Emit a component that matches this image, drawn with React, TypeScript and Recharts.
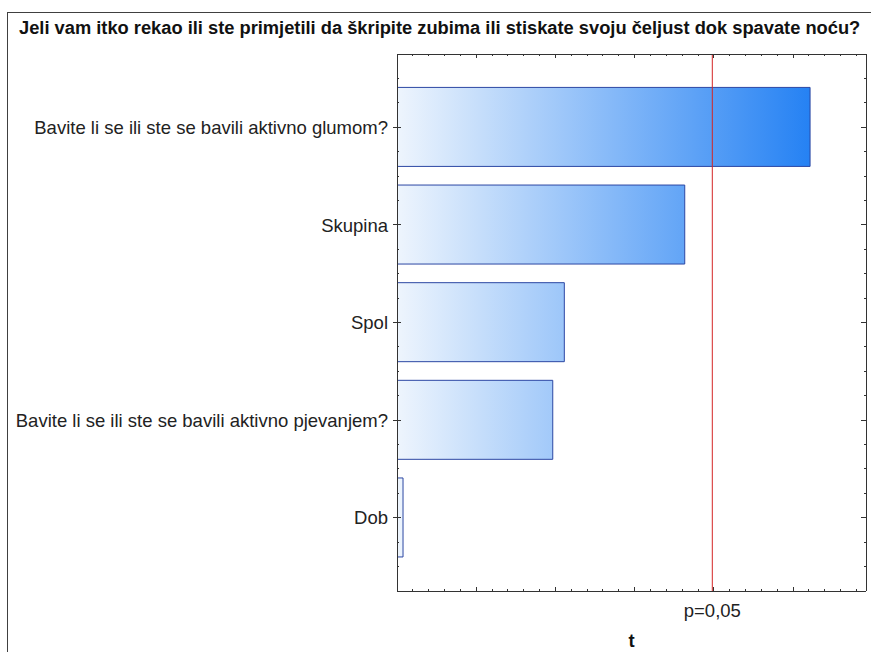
import React from 'react';
import { BarChart, Bar, XAxis, YAxis, ReferenceLine } from 'recharts';

const title = 'Jeli vam itko rekao ili ste primjetili da škripite zubima ili stiskate svoju čeljust dok spavate noću?';
const factors = [
  'Bavite li se ili ste se bavili aktivno glumom?',
  'Skupina',
  'Spol',
  'Bavite li se ili ste se bavili aktivno pjevanjem?',
  'Dob',
];
const tValues = [2.607, 1.816, 1.056, 0.983, 0.038];
const critT = 1.99;
const critLabel = 'p=0,05';
const xTicks = [0, 0.1, 0.2, 0.3, 0.4, 0.5, 0.6, 0.7, 0.8, 0.9, 1, 1.1, 1.2, 1.3, 1.4, 1.5, 1.6, 1.7, 1.8, 1.9, 2, 2.1, 2.2, 2.3, 2.4, 2.5, 2.6, 2.7, 2.8, 2.9];
const yTicks = [0.25, 0.5, 0.75, 1, 1.25, 1.5, 1.75, 2, 2.25, 2.5, 2.75, 3, 3.25, 3.5, 3.75, 4, 4.25, 4.5, 4.75, 5, 5.25, 5.5, 5.75];

const data = factors.map((name, i) => ({ name, pos: i + 1, t: tValues[i] }));

const W = 871;
const H = 652;
const PLOT_LEFT = 397;
const PLOT_RIGHT = 866;
const PLOT_TOP = 54;
const PLOT_BOTTOM = 591;
const FONT = '"Liberation Sans", Arial, sans-serif';
const AXIS = '#333';

const isMajorX = (v: number) => Math.abs(v * 2 - Math.round(v * 2)) < 1e-6;

const BottomTick = ({ x, y, payload }: any) => (
  <line x1={x} x2={x} y1={y} y2={y - (isMajorX(payload.value) ? 4 : 2)} stroke={AXIS} shapeRendering="crispEdges" />
);
const TopTick = ({ x, y, payload }: any) => (
  <line x1={x} x2={x} y1={y} y2={y + (isMajorX(payload.value) ? 4 : 2)} stroke={AXIS} shapeRendering="crispEdges" />
);
const LeftTick = ({ x, y, payload }: any) => {
  const major = Number.isInteger(payload.value);
  return (
    <g>
      <line x1={major ? x - 4 : x} x2={x + (major ? 4 : 2)} y1={y} y2={y} stroke={AXIS} shapeRendering="crispEdges" />
      {major && (
        <text x={x - 9} y={y} dy="0.36em" textAnchor="end" fontSize={18.5} fontFamily={FONT} fill="#222">
          {factors[payload.value - 1]}
        </text>
      )}
    </g>
  );
};
const RightTick = ({ x, y, payload }: any) => {
  const major = Number.isInteger(payload.value);
  return <line x1={x} x2={x - (major ? 5 : 2)} y1={y} y2={y} stroke={AXIS} shapeRendering="crispEdges" />;
};

const axisLine = { stroke: AXIS, shapeRendering: 'crispEdges' };

export default function App() {
  return (
    <div style={{ position: 'absolute', left: 0, top: 0, width: W, height: H, overflow: 'hidden', background: '#fff', fontFamily: FONT }}>
      <div style={{ position: 'absolute', left: 7, top: 12, width: 900, height: 700, border: '1px solid #404040' }} />
      <div style={{ position: 'absolute', left: 19, top: 18, lineHeight: '20px', fontSize: 18.3, fontWeight: 700, color: '#111', whiteSpace: 'nowrap' }}>
        {title}
      </div>
      <div style={{ position: 'absolute', left: 0, top: 0 }}>
        <BarChart
          width={W}
          height={H}
          data={data}
          layout="vertical"
          margin={{ top: PLOT_TOP - 1, right: W - PLOT_RIGHT - 1, bottom: 0, left: 0 }}
        >
          <defs>
            <linearGradient id="tGrad" gradientUnits="userSpaceOnUse" x1={PLOT_LEFT} y1={0} x2={PLOT_RIGHT} y2={0}>
              <stop offset="0%" stopColor="#EEF5FD" />
              <stop offset="100%" stopColor="#0A72F2" />
            </linearGradient>
          </defs>
          <XAxis
            type="number"
            domain={[0, 2.96]}
            allowDataOverflow
            ticks={xTicks}
            interval={0}
            height={H - PLOT_BOTTOM}
            tickSize={0}
            tickMargin={0}
            tick={(p: any) => <BottomTick {...p} />}
            axisLine={axisLine}
            label={{ value: 't', position: 'insideBottom', offset: 5, fontSize: 18.5, fontWeight: 700, fill: '#111', fontFamily: FONT }}
          />
          <XAxis
            xAxisId="top"
            orientation="top"
            type="number"
            dataKey="t"
            domain={[0, 2.96]}
            allowDataOverflow
            ticks={xTicks}
            interval={0}
            height={1}
            tickSize={0}
            tickMargin={0}
            tick={(p: any) => <TopTick {...p} />}
            axisLine={axisLine}
          />
          <YAxis
            type="number"
            dataKey="pos"
            domain={[0.25, 5.75]}
            allowDataOverflow
            ticks={yTicks}
            interval={0}
            width={PLOT_LEFT}
            tickSize={0}
            tickMargin={0}
            tick={(p: any) => <LeftTick {...p} />}
            axisLine={axisLine}
          />
          <YAxis
            yAxisId="right"
            orientation="right"
            type="number"
            dataKey="pos"
            domain={[0.25, 5.75]}
            allowDataOverflow
            ticks={yTicks}
            interval={0}
            width={1}
            tickSize={0}
            tickMargin={0}
            tick={(p: any) => <RightTick {...p} />}
            axisLine={axisLine}
          />
          <Bar dataKey="t" barSize={79} fill="url(#tGrad)" stroke="#2B47A3" strokeWidth={1} isAnimationActive={false} />
          <ReferenceLine
            x={critT}
            stroke="#D42525"
            strokeWidth={1}
            label={{ value: critLabel, position: 'bottom', offset: 13, fontSize: 18.5, fill: '#222', fontFamily: FONT }}
          />
        </BarChart>
      </div>
    </div>
  );
}
